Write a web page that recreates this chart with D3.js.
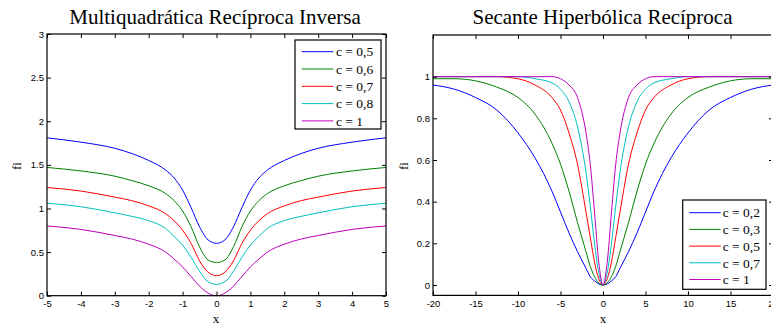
<!DOCTYPE html>
<html>
<head>
<meta charset="utf-8" />
<title>fi</title>
<script src="https://cdnjs.cloudflare.com/ajax/libs/d3/7.8.5/d3.min.js"></script>
<style>
    body { margin: 0; background: #fff; }
    .tick text { font-family: "Liberation Sans", Arial, sans-serif; font-size: 9.5px; fill: #000; }
    .tick line { stroke: #000; }
    .domain { display: none; }
    .serif { font-family: "Liberation Serif", "Times New Roman", serif; fill: #000; }
</style>
</head>
<body>
<svg id="chart" width="771" height="326"></svg>
<script>
    var lineColors = ['#0000ff', '#008000', '#ff0000', '#00bfbf', '#bf00bf'];

    // left panel: multiquadrica reciproca inversa
    var xsLeft = [-5, -4, -3, -2.5, -2, -1.5, -1.25, -1, -0.75, -0.5, -0.25, 0, 0.25, 0.5, 0.75, 1, 1.25, 1.5, 2, 2.5, 3, 4, 5];
    var fiMq05 = [1.81, 1.76, 1.69, 1.63, 1.55, 1.44, 1.35, 1.21, 1.01, 0.79, 0.64, 0.60, 0.64, 0.79, 1.01, 1.21, 1.35, 1.44, 1.55, 1.63, 1.69, 1.76, 1.81];
    var fiMq06 = [1.47, 1.43, 1.37, 1.32, 1.26, 1.17, 1.09, 0.97, 0.79, 0.56, 0.41, 0.38, 0.41, 0.56, 0.79, 0.97, 1.09, 1.17, 1.26, 1.32, 1.37, 1.43, 1.47];
    var fiMq07 = [1.24, 1.20, 1.13, 1.09, 1.03, 0.94, 0.86, 0.75, 0.60, 0.40, 0.27, 0.23, 0.27, 0.40, 0.60, 0.75, 0.86, 0.94, 1.03, 1.09, 1.13, 1.20, 1.24];
    var fiMq08 = [1.06, 1.02, 0.95, 0.91, 0.86, 0.77, 0.68, 0.58, 0.44, 0.28, 0.16, 0.13, 0.16, 0.28, 0.44, 0.58, 0.68, 0.77, 0.86, 0.91, 0.95, 1.02, 1.06];
    var fiMq1 = [0.80, 0.76, 0.69, 0.65, 0.59, 0.50, 0.42, 0.33, 0.22, 0.11, 0.03, 0.00, 0.03, 0.11, 0.22, 0.33, 0.42, 0.50, 0.59, 0.65, 0.69, 0.76, 0.80];
    var legendLeft = ['c = 0,5', 'c = 0,6', 'c = 0,7', 'c = 0,8', 'c = 1'];
    var xTicksLeft = [-5, -4, -3, -2, -1, 0, 1, 2, 3, 4, 5];
    var yTicksLeft = [0, 0.5, 1, 1.5, 2, 2.5, 3];

    // right panel: secante hiperbolica reciproca
    var xsRight = [-20, -17.5, -15, -12.5, -10, -8, -6, -5, -4, -3, -2, -1.5, -1, -0.5, 0, 0.5, 1, 1.5, 2, 3, 4, 5, 6, 8, 10, 12.5, 15, 17.5, 20];
    var fiSech02 = [0.96, 0.94, 0.90, 0.84, 0.73, 0.61, 0.45, 0.35, 0.25, 0.16, 0.08, 0.04, 0.02, 0.005, 0, 0.005, 0.02, 0.04, 0.08, 0.16, 0.25, 0.35, 0.45, 0.61, 0.73, 0.84, 0.90, 0.94, 0.96];
    var fiSech03 = [0.99, 0.99, 0.98, 0.95, 0.90, 0.82, 0.68, 0.58, 0.45, 0.30, 0.16, 0.09, 0.04, 0.01, 0, 0.01, 0.04, 0.09, 0.16, 0.30, 0.45, 0.58, 0.68, 0.82, 0.90, 0.95, 0.98, 0.99, 0.99];
    var fiSech05 = [1, 1, 1, 1, 0.99, 0.96, 0.90, 0.84, 0.73, 0.58, 0.35, 0.23, 0.11, 0.03, 0, 0.03, 0.11, 0.23, 0.35, 0.58, 0.73, 0.84, 0.90, 0.96, 0.99, 1, 1, 1, 1];
    var fiSech07 = [1, 1, 1, 1, 1, 0.99, 0.97, 0.94, 0.88, 0.76, 0.54, 0.38, 0.20, 0.06, 0, 0.06, 0.20, 0.38, 0.54, 0.76, 0.88, 0.94, 0.97, 0.99, 1, 1, 1, 1, 1];
    var fiSech1 = [1, 1, 1, 1, 1, 1, 1, 0.99, 0.96, 0.90, 0.73, 0.58, 0.35, 0.11, 0, 0.11, 0.35, 0.58, 0.73, 0.90, 0.96, 0.99, 1, 1, 1, 1, 1, 1, 1];
    var legendRight = ['c = 0,2', 'c = 0,3', 'c = 0,5', 'c = 0,7', 'c = 1'];
    var xTicksRight = [-20, -15, -10, -5, 0, 5, 10, 15, 20];
    var yTicksRight = [0, 0.2, 0.4, 0.6, 0.8, 1];

    var svg = d3.select('#chart');
    svg.append('rect').attr('width', 771).attr('height', 326).attr('fill', '#fff');

    function drawPanel(p) {
        var g = svg.append('g');
        var x = d3.scaleLinear().domain(p.xDomain).range(p.xRange);
        var y = d3.scaleLinear().domain(p.yDomain).range(p.yRange);
        var x0 = p.xRange[0], x1 = p.xRange[1], y0 = p.yRange[1], y1 = p.yRange[0];
        var fmt = function(d) { return String(d); };

        var line = d3.line()
            .x(function(d, i) { return x(p.xs[i]); })
            .y(function(d) { return y(d); })
            .curve(d3.curveMonotoneX);

        p.series.forEach(function(s, i) {
            g.append('path').datum(s).attr('d', line)
                .attr('fill', 'none').attr('stroke', lineColors[i]).attr('stroke-width', 1);
        });

        // box with ticks pointing inward on all four sides
        g.append('g').attr('transform', 'translate(0,' + y1 + ')')
            .call(d3.axisBottom(x).tickValues(p.xTicks).tickSize(-4).tickPadding(5).tickFormat(fmt));
        g.append('g').attr('transform', 'translate(0,' + y0 + ')')
            .call(d3.axisTop(x).tickValues(p.xTicks).tickSize(-4).tickFormat(''));
        g.append('g').attr('transform', 'translate(' + x0 + ',0)')
            .call(d3.axisLeft(y).tickValues(p.yTicks).tickSize(-4).tickPadding(3).tickFormat(fmt));
        g.append('g').attr('transform', 'translate(' + x1 + ',0)')
            .call(d3.axisRight(y).tickValues(p.yTicks).tickSize(-4).tickFormat(''));
        g.append('rect').attr('x', x0).attr('y', y0).attr('width', x1 - x0).attr('height', y1 - y0)
            .attr('fill', 'none').attr('stroke', '#000').attr('stroke-width', 1.2);

        g.append('text').attr('class', 'serif').attr('x', p.titleX).attr('y', 23.5)
            .attr('text-anchor', 'middle').style('font-size', '21px').text(p.title);
        g.append('text').attr('class', 'serif').attr('x', p.xLabelX).attr('y', 323)
            .attr('text-anchor', 'middle').style('font-size', '13px').text('x');
        g.append('text').attr('class', 'serif')
            .attr('transform', 'translate(' + p.yLabelX + ',166) rotate(-90)')
            .attr('text-anchor', 'middle').style('font-size', '13px').text('fi');

        // legend
        var L = p.legend;
        var lg = g.append('g');
        lg.append('rect').attr('x', L.x).attr('y', L.y).attr('width', L.w).attr('height', L.h)
            .attr('fill', '#fff').attr('stroke', '#000').attr('stroke-width', 1.2);
        p.labels.forEach(function(t, i) {
            var ry = L.row0 + i * L.dy;
            lg.append('line').attr('x1', L.lx0).attr('x2', L.lx1).attr('y1', ry).attr('y2', ry)
                .attr('stroke', lineColors[i]).attr('stroke-width', 1);
            lg.append('text').attr('class', 'serif').attr('x', L.tx).attr('y', ry).attr('dy', '0.35em')
                .style('font-size', '13.5px').text(t);
        });
    }

    drawPanel({
        xs: xsLeft,
        series: [fiMq05, fiMq06, fiMq07, fiMq08, fiMq1],
        labels: legendLeft,
        xDomain: [-5, 5], xRange: [47, 386],
        yDomain: [0, 3], yRange: [295.7, 34],
        xTicks: xTicksLeft, yTicks: yTicksLeft,
        title: 'Multiquadrática Recíproca Inversa', titleX: 215,
        xLabelX: 216, yLabelX: 20.5,
        legend: { x: 295, y: 40, w: 86, h: 89, row0: 51.7, dy: 17.3, lx0: 301.7, lx1: 333.3, tx: 336 }
    });

    drawPanel({
        xs: xsRight,
        series: [fiSech02, fiSech03, fiSech05, fiSech07, fiSech1],
        labels: legendRight,
        xDomain: [-20, 20], xRange: [433, 773],
        yDomain: [-0.05, 1.2], yRange: [295.4, 35],
        xTicks: xTicksRight, yTicks: yTicksRight,
        title: 'Secante Hiperbólica Recíproca', titleX: 602.5,
        xLabelX: 603, yLabelX: 408.3,
        legend: { x: 682.7, y: 200, w: 83.3, h: 89.3, row0: 212.7, dy: 16.7, lx0: 689.3, lx1: 720.7, tx: 722.7 }
    });
</script>
</body>
</html>
